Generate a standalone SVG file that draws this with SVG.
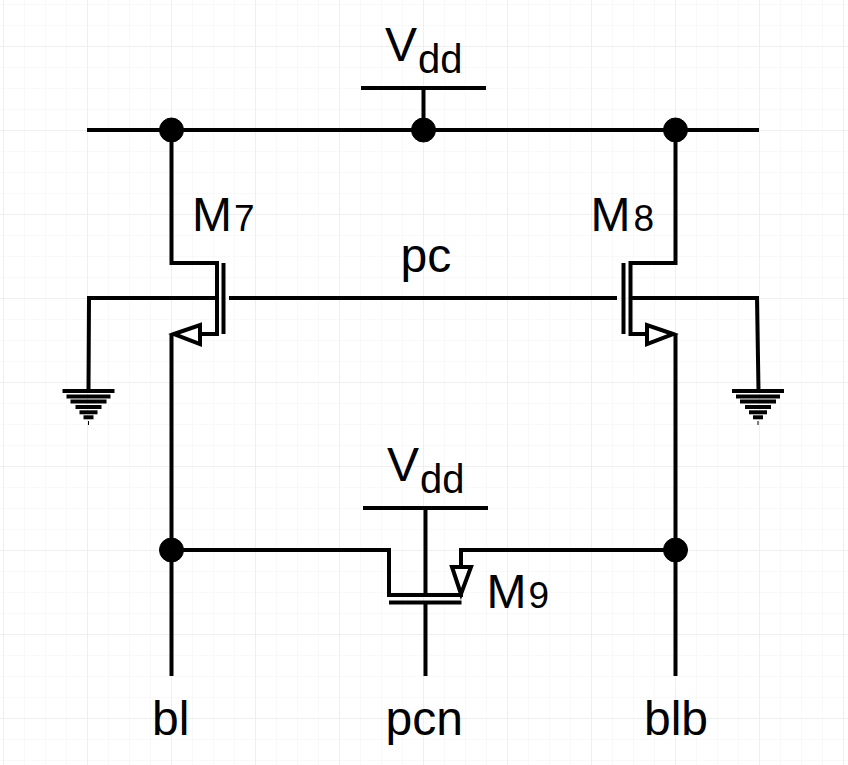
<svg xmlns="http://www.w3.org/2000/svg" width="848" height="765" viewBox="0 0 848 765">
<defs>
<pattern id="minor" width="21" height="21" patternUnits="userSpaceOnUse" x="3" y="4"><path d="M0 0H21M0 0V21" fill="none" stroke="#f4f4f4" stroke-width="1"/></pattern>
<pattern id="major" width="84" height="84" patternUnits="userSpaceOnUse" x="3" y="46"><path d="M0 0H84M0 0V84" fill="none" stroke="#e6e6e6" stroke-width="1"/></pattern>
<g id="gnd"><path d="M-26 0H26" stroke-width="4"/><path d="M-22 5.500H22" stroke-width="4"/><path d="M-18 10.500H18" stroke-width="4"/><path d="M-13 16H13" stroke-width="4"/><path d="M-9 21.300H9" stroke-width="4"/><path d="M-5 26.300H5" stroke-width="4"/><path d="M0 30V34" stroke-width="1"/></g>
</defs>
<style>
.w{fill:none;stroke:#000;stroke-width:4}
.d{fill:#000;stroke:#000;stroke-width:1}
.a{fill:#fff;stroke:#000;stroke-width:4}
.g{stroke:#000;fill:none}
text{font-family:"Liberation Sans",Arial,sans-serif;fill:#000}
.l{font-size:48px}
.s{font-size:40px}
.n{font-size:37px}
</style>
<rect width="848" height="765" fill="#fff"/>
<rect width="848" height="765" fill="url(#minor)"/>
<rect width="848" height="765" fill="url(#major)"/>
<g id="connectors">
<path class="w" d="M87 130H759"/>
<path class="w" d="M361 88H486"/>
<path class="w" d="M423.500 88V130"/>
<path class="w" d="M171.500 130V263H217V334H199"/>
<path class="w" d="M675.500 130V263H630.500V334H647"/>
<path class="w" d="M88.500 390L89 298H217M229 298H617M629 298H757L758.500 390"/>
<path class="w" d="M223.500 263V334"/>
<path class="w" d="M623.500 263V334"/>
<path class="w" d="M171.500 334V676"/>
<path class="w" d="M675.500 334V676"/>
<path class="w" d="M171 550H389V595H461V550H675"/>
<path class="w" d="M363 508H488"/>
<path class="w" d="M425.500 508V595"/>
<path class="w" d="M389 602.500H461.500"/>
<path class="w" d="M425.500 602V676"/>
</g>
<g id="arrows">
<path class="a" d="M174 334L200 325V344Z"/>
<path class="a" d="M673 334L647 325V344Z"/>
<path class="a" d="M461 594L452 567H471Z"/>
</g>
<g id="dots">
<circle class="d" cx="171.500" cy="130" r="12"/>
<circle class="d" cx="423.500" cy="130" r="12"/>
<circle class="d" cx="675.500" cy="130" r="12"/>
<circle class="d" cx="171.500" cy="550" r="12"/>
<circle class="d" cx="675.500" cy="550" r="12"/>
</g>
<g id="gnd-left" class="g"><use href="#gnd" x="88.500" y="391"/></g>
<g id="gnd-right" class="g"><use href="#gnd" x="758" y="391"/></g>
<g id="labels">
<text x="385" y="61" class="l">V<tspan class="s" x="418" y="73">dd</tspan></text>
<text x="387" y="481" class="l">V<tspan class="s" x="420" y="493">dd</tspan></text>
<text x="192" y="231" class="l">M<tspan class="n" x="234">7</tspan></text>
<text x="590.500" y="231" class="l">M<tspan class="n" x="633.500">8</tspan></text>
<text x="486.500" y="608" class="l">M<tspan class="n" x="528.500">9</tspan></text>
<text x="400.500" y="272" class="l">pc</text>
<text x="152" y="735" class="l">bl</text>
<text x="385.500" y="735" class="l">pcn</text>
<text x="644" y="735" class="l">blb</text>
</g>
</svg>
